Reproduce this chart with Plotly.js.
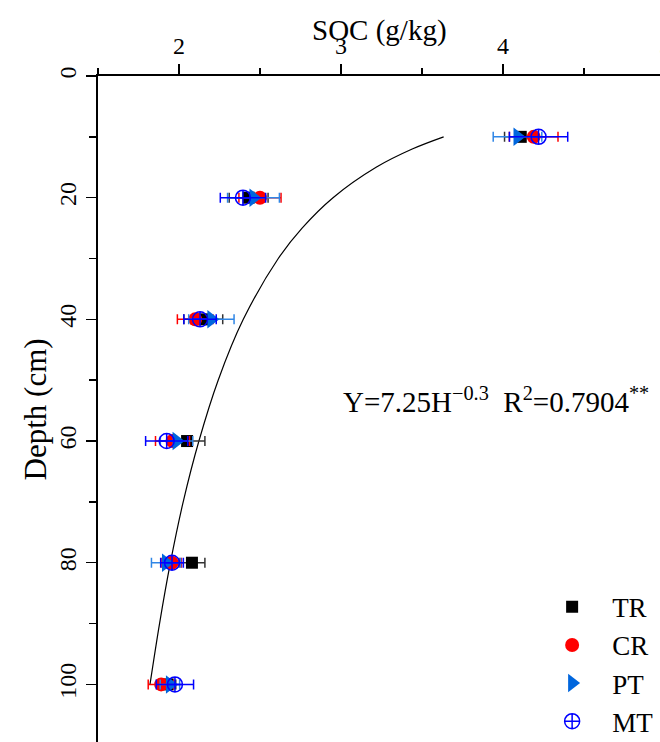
<!DOCTYPE html>
<html>
<head>
<meta charset="utf-8">
<script src="https://cdn.plot.ly/plotly-3.0.1.min.js"></script>
<style>
html,body{margin:0;padding:0;overflow:hidden;background:#fff;}
#chart{width:673px;height:800px;}
</style>
</head>
<body>
<div id="chart"></div>
<script>
// Depths (cm)
var depth = [10, 20, 40, 60, 80, 100];
// SOC (g/kg) per treatment and standard errors
var TR = [4.11, 2.43, 2.15, 2.05, 2.08, 1.93];
var TR_err = [0.10, 0.12, 0.12, 0.11, 0.08, 0.05];
var CR = [4.19, 2.50, 2.10, 1.96, 1.955, 1.89];
var CR_err = [0.15, 0.13, 0.11, 0.105, 0.06, 0.08];
var PT = [4.09, 2.46, 2.20, 1.985, 1.92, 1.944];
var PT_err = [0.15, 0.16, 0.14, 0.10, 0.09, 0.06];
var MT = [4.22, 2.395, 2.13, 1.924, 1.957, 1.975];
var MT_err = [0.18, 0.14, 0.10, 0.13, 0.07, 0.115];
// Fitted curve
var fitDepth = [10, 12, 15, 20, 25, 30, 40, 50, 60, 70, 80, 90, 100];
var fitSOC = [3.634, 3.440, 3.217, 2.951, 2.760, 2.613, 2.397, 2.242, 2.123, 2.026, 1.947, 1.880, 1.821];

var FONT = 'Liberation Serif, Times New Roman, serif';

function series(name, xs, errs, symbol, size, color, errColor, lineW) {
  return {
    type: 'scatter', mode: 'markers', name: name,
    x: xs, y: depth,
    error_x: {type: 'data', array: errs, visible: true, color: errColor, thickness: 1.5, width: 5},
    marker: {symbol: symbol, size: size, color: color, line: {width: lineW, color: color}}
  };
}

var traces = [
  {type: 'scatter', mode: 'lines', x: fitSOC, y: fitDepth, line: {color: '#000', width: 1.2, shape: 'spline'}, showlegend: false, hoverinfo: 'skip'},
  series('TR', TR, TR_err, 'square', 12, '#000000', '#333333', 0),
  series('CR', CR, CR_err, 'circle', 14, '#ff0000', '#ff0000', 0),
  series('PT', PT, PT_err, 'triangle-right', 16, '#0066dd', '#2f86e6', 0),
  series('MT', MT, MT_err, 'circle-cross-open', 15, '#0000ff', '#0000ff', 1.5)
];

var layout = {
  width: 673, height: 800,
  margin: {l: 98, r: 0, t: 76, b: 0},
  paper_bgcolor: '#fff', plot_bgcolor: '#fff',
  font: {family: FONT, color: '#000'},
  showlegend: true,
  legend: {x: 0.755, y: 0.300, xanchor: 'left', yanchor: 'top', font: {family: FONT, size: 27, color: '#000'}, itemwidth: 70, bgcolor: 'rgba(0,0,0,0)'},
  xaxis: {
    side: 'top', range: [1.5, 5.05], tickvals: [2, 3, 4, 5], ticktext: ['2', '3', '4', '5'],
    ticks: 'outside', ticklen: 10, tickwidth: 1.5, tickcolor: '#000',
    minor: {tickvals: [1.5, 2.5, 3.5, 4.5], ticks: 'outside', ticklen: 6, tickwidth: 1.5, tickcolor: '#000'},
    showline: true, linecolor: '#000', linewidth: 2, showgrid: false, zeroline: false,
    tickfont: {family: FONT, size: 24}
  },
  yaxis: {
    range: [119, 0], tickvals: [0, 20, 40, 60, 80, 100],
    ticks: 'outside', ticklen: 10, tickwidth: 1.5, tickcolor: '#000', tickangle: -90,
    minor: {tickvals: [10, 30, 50, 70, 90, 110], ticks: 'outside', ticklen: 7, tickwidth: 1.5, tickcolor: '#000'},
    showline: true, linecolor: '#000', linewidth: 2, showgrid: false, zeroline: false,
    tickfont: {family: FONT, size: 24}
  },
  annotations: [
    {text: 'SOC (g/kg)', xref: 'x', yref: 'paper', x: 3.24, y: 1, yshift: 46, yanchor: 'middle', xanchor: 'center', showarrow: false, font: {family: FONT, size: 29}},
    {text: 'Depth (cm)', xref: 'paper', yref: 'y', x: 0, xshift: -63, y: 54.8, xanchor: 'center', yanchor: 'middle', textangle: -90, showarrow: false, font: {family: FONT, size: 31}},
    {text: 'Y=7.25H<sup>\u22120.3</sup>\u00a0\u00a0R<sup>2</sup>=0.7904<sup>**</sup>', xref: 'x', yref: 'y', x: 3.957, y: 53.2, xanchor: 'center', yanchor: 'middle', showarrow: false, font: {family: FONT, size: 29}}
  ]
};

Plotly.newPlot('chart', traces, layout, {displayModeBar: false, staticPlot: true});
</script>
</body>
</html>
